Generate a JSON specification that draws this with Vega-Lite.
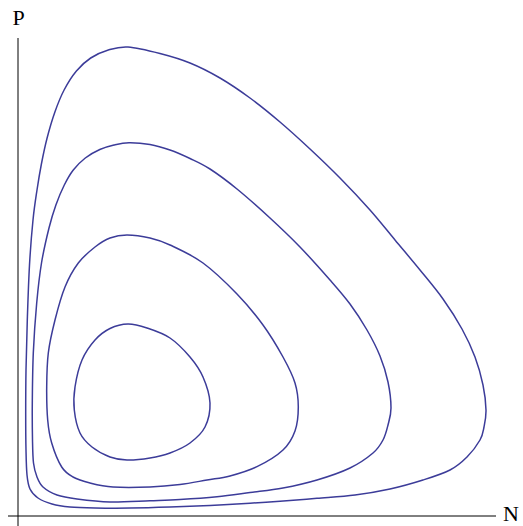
{
  "$schema": "https://vega.github.io/schema/vega-lite/v6.json",
  "width": 523,
  "height": 526,
  "padding": 0,
  "autosize": {"type": "none"},
  "config": {"view": {"stroke": null}},
  "datasets": {
    "orbits": [
      {"orbit": 4, "i": 0, "N": 1.100, "P": 4.690},
      {"orbit": 4, "i": 1, "N": 1.420, "P": 4.625},
      {"orbit": 4, "i": 2, "N": 1.720, "P": 4.530},
      {"orbit": 4, "i": 3, "N": 2.020, "P": 4.380},
      {"orbit": 4, "i": 4, "N": 2.320, "P": 4.180},
      {"orbit": 4, "i": 5, "N": 2.620, "P": 3.940},
      {"orbit": 4, "i": 6, "N": 2.920, "P": 3.670},
      {"orbit": 4, "i": 7, "N": 3.220, "P": 3.380},
      {"orbit": 4, "i": 8, "N": 3.520, "P": 3.060},
      {"orbit": 4, "i": 9, "N": 3.770, "P": 2.760},
      {"orbit": 4, "i": 10, "N": 4.020, "P": 2.460},
      {"orbit": 4, "i": 11, "N": 4.250, "P": 2.170},
      {"orbit": 4, "i": 12, "N": 4.440, "P": 1.870},
      {"orbit": 4, "i": 13, "N": 4.570, "P": 1.590},
      {"orbit": 4, "i": 14, "N": 4.650, "P": 1.310},
      {"orbit": 4, "i": 15, "N": 4.680, "P": 1.060},
      {"orbit": 4, "i": 16, "N": 4.660, "P": 0.890},
      {"orbit": 4, "i": 17, "N": 4.620, "P": 0.760},
      {"orbit": 4, "i": 18, "N": 4.490, "P": 0.590},
      {"orbit": 4, "i": 19, "N": 4.320, "P": 0.460},
      {"orbit": 4, "i": 20, "N": 4.050, "P": 0.360},
      {"orbit": 4, "i": 21, "N": 3.720, "P": 0.270},
      {"orbit": 4, "i": 22, "N": 3.370, "P": 0.210},
      {"orbit": 4, "i": 23, "N": 2.990, "P": 0.177},
      {"orbit": 4, "i": 24, "N": 2.620, "P": 0.148},
      {"orbit": 4, "i": 25, "N": 2.320, "P": 0.128},
      {"orbit": 4, "i": 26, "N": 1.920, "P": 0.106},
      {"orbit": 4, "i": 27, "N": 1.520, "P": 0.089},
      {"orbit": 4, "i": 28, "N": 1.120, "P": 0.079},
      {"orbit": 4, "i": 29, "N": 0.770, "P": 0.080},
      {"orbit": 4, "i": 30, "N": 0.520, "P": 0.090},
      {"orbit": 4, "i": 31, "N": 0.340, "P": 0.120},
      {"orbit": 4, "i": 32, "N": 0.200, "P": 0.180},
      {"orbit": 4, "i": 33, "N": 0.120, "P": 0.270},
      {"orbit": 4, "i": 34, "N": 0.090, "P": 0.410},
      {"orbit": 4, "i": 35, "N": 0.080, "P": 0.660},
      {"orbit": 4, "i": 36, "N": 0.077, "P": 1.010},
      {"orbit": 4, "i": 37, "N": 0.080, "P": 1.460},
      {"orbit": 4, "i": 38, "N": 0.093, "P": 1.960},
      {"orbit": 4, "i": 39, "N": 0.115, "P": 2.510},
      {"orbit": 4, "i": 40, "N": 0.150, "P": 2.960},
      {"orbit": 4, "i": 41, "N": 0.190, "P": 3.260},
      {"orbit": 4, "i": 42, "N": 0.234, "P": 3.520},
      {"orbit": 4, "i": 43, "N": 0.291, "P": 3.780},
      {"orbit": 4, "i": 44, "N": 0.369, "P": 4.040},
      {"orbit": 4, "i": 45, "N": 0.461, "P": 4.260},
      {"orbit": 4, "i": 46, "N": 0.584, "P": 4.450},
      {"orbit": 4, "i": 47, "N": 0.727, "P": 4.580},
      {"orbit": 4, "i": 48, "N": 0.903, "P": 4.660},

      {"orbit": 3, "i": 0, "N": 1.110, "P": 3.733},
      {"orbit": 3, "i": 1, "N": 1.320, "P": 3.715},
      {"orbit": 3, "i": 2, "N": 1.520, "P": 3.660},
      {"orbit": 3, "i": 3, "N": 1.720, "P": 3.575},
      {"orbit": 3, "i": 4, "N": 1.920, "P": 3.470},
      {"orbit": 3, "i": 5, "N": 2.190, "P": 3.270},
      {"orbit": 3, "i": 6, "N": 2.520, "P": 2.980},
      {"orbit": 3, "i": 7, "N": 2.820, "P": 2.690},
      {"orbit": 3, "i": 8, "N": 3.120, "P": 2.360},
      {"orbit": 3, "i": 9, "N": 3.320, "P": 2.120},
      {"orbit": 3, "i": 10, "N": 3.490, "P": 1.860},
      {"orbit": 3, "i": 11, "N": 3.620, "P": 1.600},
      {"orbit": 3, "i": 12, "N": 3.700, "P": 1.340},
      {"orbit": 3, "i": 13, "N": 3.730, "P": 1.080},
      {"orbit": 3, "i": 14, "N": 3.700, "P": 0.910},
      {"orbit": 3, "i": 15, "N": 3.650, "P": 0.760},
      {"orbit": 3, "i": 16, "N": 3.550, "P": 0.630},
      {"orbit": 3, "i": 17, "N": 3.320, "P": 0.480},
      {"orbit": 3, "i": 18, "N": 2.990, "P": 0.360},
      {"orbit": 3, "i": 19, "N": 2.650, "P": 0.280},
      {"orbit": 3, "i": 20, "N": 2.320, "P": 0.235},
      {"orbit": 3, "i": 21, "N": 1.990, "P": 0.193},
      {"orbit": 3, "i": 22, "N": 1.620, "P": 0.165},
      {"orbit": 3, "i": 23, "N": 1.320, "P": 0.153},
      {"orbit": 3, "i": 24, "N": 0.920, "P": 0.140},
      {"orbit": 3, "i": 25, "N": 0.590, "P": 0.170},
      {"orbit": 3, "i": 26, "N": 0.390, "P": 0.210},
      {"orbit": 3, "i": 27, "N": 0.250, "P": 0.290},
      {"orbit": 3, "i": 28, "N": 0.190, "P": 0.390},
      {"orbit": 3, "i": 29, "N": 0.155, "P": 0.530},
      {"orbit": 3, "i": 30, "N": 0.145, "P": 0.760},
      {"orbit": 3, "i": 31, "N": 0.143, "P": 1.130},
      {"orbit": 3, "i": 32, "N": 0.153, "P": 1.630},
      {"orbit": 3, "i": 33, "N": 0.187, "P": 2.130},
      {"orbit": 3, "i": 34, "N": 0.235, "P": 2.530},
      {"orbit": 3, "i": 35, "N": 0.310, "P": 2.880},
      {"orbit": 3, "i": 36, "N": 0.379, "P": 3.110},
      {"orbit": 3, "i": 37, "N": 0.463, "P": 3.310},
      {"orbit": 3, "i": 38, "N": 0.553, "P": 3.460},
      {"orbit": 3, "i": 39, "N": 0.673, "P": 3.580},
      {"orbit": 3, "i": 40, "N": 0.818, "P": 3.665},
      {"orbit": 3, "i": 41, "N": 0.960, "P": 3.710},

      {"orbit": 2, "i": 0, "N": 1.090, "P": 2.810},
      {"orbit": 2, "i": 1, "N": 1.320, "P": 2.780},
      {"orbit": 2, "i": 2, "N": 1.520, "P": 2.710},
      {"orbit": 2, "i": 3, "N": 1.850, "P": 2.530},
      {"orbit": 2, "i": 4, "N": 2.190, "P": 2.220},
      {"orbit": 2, "i": 5, "N": 2.450, "P": 1.910},
      {"orbit": 2, "i": 6, "N": 2.650, "P": 1.590},
      {"orbit": 2, "i": 7, "N": 2.770, "P": 1.330},
      {"orbit": 2, "i": 8, "N": 2.803, "P": 1.090},
      {"orbit": 2, "i": 9, "N": 2.770, "P": 0.850},
      {"orbit": 2, "i": 10, "N": 2.650, "P": 0.660},
      {"orbit": 2, "i": 11, "N": 2.390, "P": 0.493},
      {"orbit": 2, "i": 12, "N": 2.120, "P": 0.400},
      {"orbit": 2, "i": 13, "N": 1.890, "P": 0.360},
      {"orbit": 2, "i": 14, "N": 1.620, "P": 0.315},
      {"orbit": 2, "i": 15, "N": 1.320, "P": 0.290},
      {"orbit": 2, "i": 16, "N": 0.950, "P": 0.290},
      {"orbit": 2, "i": 17, "N": 0.720, "P": 0.330},
      {"orbit": 2, "i": 18, "N": 0.550, "P": 0.390},
      {"orbit": 2, "i": 19, "N": 0.437, "P": 0.490},
      {"orbit": 2, "i": 20, "N": 0.337, "P": 0.730},
      {"orbit": 2, "i": 21, "N": 0.297, "P": 0.960},
      {"orbit": 2, "i": 22, "N": 0.287, "P": 1.290},
      {"orbit": 2, "i": 23, "N": 0.303, "P": 1.630},
      {"orbit": 2, "i": 24, "N": 0.370, "P": 1.960},
      {"orbit": 2, "i": 25, "N": 0.470, "P": 2.290},
      {"orbit": 2, "i": 26, "N": 0.603, "P": 2.530},
      {"orbit": 2, "i": 27, "N": 0.770, "P": 2.690},
      {"orbit": 2, "i": 28, "N": 0.920, "P": 2.780},

      {"orbit": 1, "i": 0, "N": 1.100, "P": 1.920},
      {"orbit": 1, "i": 1, "N": 1.290, "P": 1.880},
      {"orbit": 1, "i": 2, "N": 1.520, "P": 1.780},
      {"orbit": 1, "i": 3, "N": 1.720, "P": 1.590},
      {"orbit": 1, "i": 4, "N": 1.850, "P": 1.390},
      {"orbit": 1, "i": 5, "N": 1.920, "P": 1.130},
      {"orbit": 1, "i": 6, "N": 1.870, "P": 0.890},
      {"orbit": 1, "i": 7, "N": 1.720, "P": 0.730},
      {"orbit": 1, "i": 8, "N": 1.520, "P": 0.630},
      {"orbit": 1, "i": 9, "N": 1.320, "P": 0.580},
      {"orbit": 1, "i": 10, "N": 1.090, "P": 0.560},
      {"orbit": 1, "i": 11, "N": 0.920, "P": 0.590},
      {"orbit": 1, "i": 12, "N": 0.740, "P": 0.690},
      {"orbit": 1, "i": 13, "N": 0.620, "P": 0.830},
      {"orbit": 1, "i": 14, "N": 0.563, "P": 1.060},
      {"orbit": 1, "i": 15, "N": 0.570, "P": 1.290},
      {"orbit": 1, "i": 16, "N": 0.640, "P": 1.560},
      {"orbit": 1, "i": 17, "N": 0.770, "P": 1.760},
      {"orbit": 1, "i": 18, "N": 0.920, "P": 1.875}
    ],
    "axes": [
      {"axis": "N", "N": -0.10, "P": 0, "N2": 4.78, "P2": 0},
      {"axis": "P", "N": 0, "P": -0.10, "N2": 0, "P2": 4.78}
    ],
    "labels": [
      {"text": "P", "N": 0.005, "P": 4.98},
      {"text": "N", "N": 4.93, "P": 0.02}
    ]
  },
  "layer": [
    {
      "data": {"name": "axes"},
      "mark": {"type": "rule", "color": "#000000", "strokeWidth": 1},
      "encoding": {
        "x": {"field": "N", "type": "quantitative", "scale": {"domain": [-0.18, 5.05], "nice": false, "zero": false}, "axis": null},
        "y": {"field": "P", "type": "quantitative", "scale": {"domain": [-0.10, 5.16], "nice": false, "zero": false}, "axis": null},
        "x2": {"field": "N2"},
        "y2": {"field": "P2"}
      }
    },
    {
      "data": {"name": "orbits"},
      "mark": {"type": "line", "interpolate": "cardinal-closed", "color": "#3c3c99", "strokeWidth": 1.5},
      "encoding": {
        "x": {"field": "N", "type": "quantitative"},
        "y": {"field": "P", "type": "quantitative"},
        "detail": {"field": "orbit", "type": "nominal"},
        "order": {"field": "i", "type": "quantitative"}
      }
    },
    {
      "data": {"name": "labels"},
      "mark": {"type": "text", "font": "Liberation Serif", "fontSize": 22, "color": "#000000", "align": "center", "baseline": "middle"},
      "encoding": {
        "x": {"field": "N", "type": "quantitative"},
        "y": {"field": "P", "type": "quantitative"},
        "text": {"field": "text"}
      }
    }
  ]
}
